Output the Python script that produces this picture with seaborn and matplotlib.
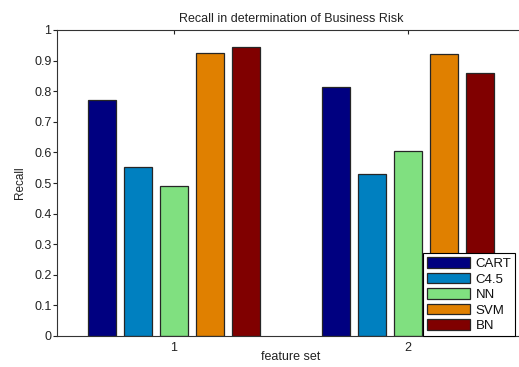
import matplotlib
matplotlib.use("Agg")
import matplotlib.pyplot as plt
import seaborn as sns
import pandas as pd

feature_sets = ["1", "2"]
methods = ["CART", "C4.5", "NN", "SVM", "BN"]
recall_set1 = [0.772, 0.552, 0.489, 0.924, 0.944]
recall_set2 = [0.814, 0.531, 0.604, 0.921, 0.861]
colors = ["#000080", "#0080C0", "#80E080", "#E08000", "#800000"]

rows = []
for fs, vals in zip(feature_sets, [recall_set1, recall_set2]):
    for m, v in zip(methods, vals):
        rows.append({"feature set": fs, "method": m, "Recall": v})
df = pd.DataFrame(rows)

sns.set_style("white")
plt.rcParams["font.family"] = ["Liberation Sans", "DejaVu Sans"]

fig = plt.figure(figsize=(5.19, 3.67), dpi=100)
ax = fig.add_axes([57 / 519, 1 - 336 / 367, 468 / 519, 306 / 367])

sns.barplot(data=df, x="feature set", y="Recall", hue="method",
            hue_order=methods, palette=colors, saturation=1,
            width=0.769, gap=0.2, edgecolor="#262626", linewidth=0.9,
            ax=ax, legend=True)

ax.set_xlim(-0.5, 1.5)
ax.set_ylim(0, 1)
ax.set_yticks([i / 10 for i in range(11)])
ax.set_yticklabels(["0", "0.1", "0.2", "0.3", "0.4", "0.5", "0.6", "0.7",
                    "0.8", "0.9", "1"])
ax.tick_params(axis="x", direction="in", length=3, width=0.8,
               labelsize=9, colors="#222222", top=True, bottom=True, pad=4)
ax.tick_params(axis="y", direction="out", length=3, width=0.8,
               labelsize=9, colors="#222222", left=True, pad=1)
for s in ax.spines.values():
    s.set_color("#333333")
    s.set_linewidth(0.8)

ax.set_title("Recall in determination of Business Risk", fontsize=9,
             color="#222222", pad=6)
ax.set_xlabel("feature set", fontsize=9, color="#222222")
ax.xaxis.set_label_coords(0.5, -0.048)
ax.set_ylabel("Recall", fontsize=8.5, color="#222222")
ax.yaxis.set_label_coords(-0.066, 0.5)

leg = ax.legend(loc="lower left", bbox_to_anchor=(0.782, 0.0),
                fontsize=9.5, frameon=True, fancybox=False, framealpha=1,
                handlelength=3.3, handleheight=0.85, labelspacing=0.2,
                borderpad=0.3, handletextpad=0.4, borderaxespad=0)
leg.get_frame().set_edgecolor("#000000")
leg.get_frame().set_linewidth(0.8)
for t in leg.get_texts():
    t.set_color("#111111")

fig.savefig("out.png", dpi=100)
